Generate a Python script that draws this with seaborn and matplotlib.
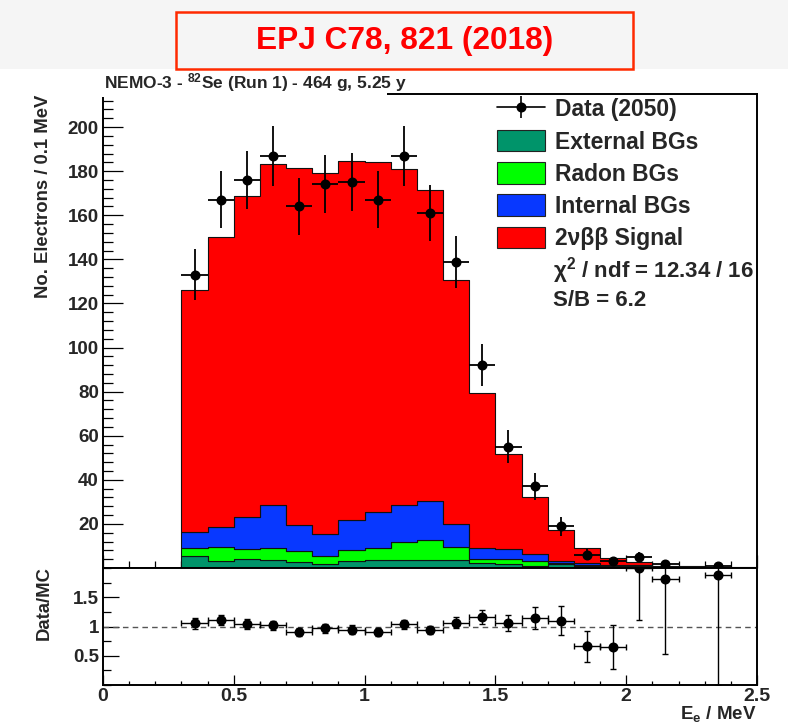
import numpy as np
import pandas as pd
import matplotlib
matplotlib.use("Agg")
import matplotlib.pyplot as plt
import seaborn as sns
from matplotlib.lines import Line2D
from matplotlib.patches import Patch, Rectangle
from matplotlib.legend_handler import HandlerTuple
from matplotlib.ticker import (MultipleLocator, NullFormatter, FixedLocator,
                               FormatStrFormatter)

# ---- 0.1 MeV energy bins (centres, MeV) that carry content ----
energy = [0.35, 0.45, 0.55, 0.65, 0.75, 0.85, 0.95, 1.05, 1.15, 1.25, 1.35,
          1.45, 1.55, 1.65, 1.75, 1.85, 1.95, 2.05, 2.15, 2.25, 2.35, 2.45]
bin_width = 0.1

# ---- observed electrons per bin ----
data_counts = [133, 167, 176, 187, 164, 174, 175, 167, 187, 161, 139,
               92, 55, 37, 19, 6, 3, 5, 2, 0, 1, 0]

# ---- fitted MC components per bin ----
external_bg = [5.3, 3.2, 4.1, 3.8, 2.5, 1.8, 3.0, 3.6, 3.6, 3.6, 3.6,
               2.1, 1.8, 1.0, 1.8, 1.0, 0.5, 0.9, 0.2, 0.1, 0.05, 0.05]
radon_bg = [3.8, 6.1, 4.5, 5.1, 5.2, 3.8, 5.3, 5.3, 8.0, 8.9, 6.0,
            2.2, 2.3, 2.3, 0.5, 0.5, 0.3, 0.1, 0.1, 0.05, 0.05, 0.05]
internal_bg = [7.2, 9.5, 14.5, 19.5, 11.8, 9.8, 13.6, 16.5, 16.8, 17.7, 10.3,
               4.6, 4.3, 2.9, 0.9, 0.8, 0.7, 0.4, 0.2, 0.1, 0.1, 0.05]
signal_2nbb = [109.7, 131.4, 145.8, 155.0, 162.1, 163.9, 162.7, 158.9, 152.4, 141.4, 110.7,
               70.4, 43.5, 26.0, 14.1, 6.8, 3.1, 1.1, 0.6, 0.45, 0.33, 0.15]

component_names = ["External BGs", "Radon BGs", "Internal BGs", "2\u03bd\u03b2\u03b2 Signal"]
component_colors = ["#00946a", "#00ff00", "#0838ff", "#ff0000"]
data_label = "Data (2050)"
fit_lines = ["$\\chi^{2}$ / ndf = 12.34 / 16", "S/B = 6.2"]

main_yticks = [20, 40, 60, 80, 100, 120, 140, 160, 180, 200]
ratio_yticks = [0.5, 1, 1.5]
xticks = [0, 0.5, 1, 1.5, 2, 2.5]

header = "NEMO-3 - $^{82}$Se (Run 1) - 464 g, 5.25 y"
banner = "EPJ C78, 821 (2018)"

# ---- style ----
sns.set_theme(style="ticks")
plt.rcParams["font.family"] = ["Liberation Sans", "DejaVu Sans"]
plt.rcParams["font.weight"] = "bold"
plt.rcParams["mathtext.fontset"] = "custom"
plt.rcParams["mathtext.rm"] = "Liberation Sans:bold"
plt.rcParams["mathtext.bf"] = "Liberation Sans:bold"
plt.rcParams["mathtext.it"] = "Liberation Sans:bold"
plt.rcParams["mathtext.default"] = "bf"

W, H = 788, 724
fig = plt.figure(figsize=(W / 100, H / 100), dpi=100)
fig.patch.set_facecolor("white")


def fx(px):
    return px / W


def fy(py):
    return 1 - py / H


left, right = 103, 757
ax = fig.add_axes([fx(left), fy(568), fx(right) - fx(left), fy(94) - fy(568)])
axr = fig.add_axes([fx(left), fy(685), fx(right) - fx(left), fy(568) - fy(685)])

# ---- stacked MC histogram ----
centres = np.array(energy)
edges = np.append(centres - bin_width / 2, centres[-1] + bin_width / 2)
components = [external_bg, radon_bg, internal_bg, signal_2nbb]
df = pd.DataFrame({
    "energy": np.tile(centres, len(components)),
    "count": np.concatenate([np.asarray(c, float) for c in components]),
    "component": np.repeat(component_names, len(centres)),
})
palette = dict(zip(component_names, component_colors))
sns.histplot(data=df, x="energy", weights="count", hue="component",
             hue_order=component_names[::-1], multiple="stack",
             bins=edges.tolist(), element="step", palette=palette, alpha=1,
             edgecolor="#111111", linewidth=0.8, legend=False, ax=ax)

# ---- data points ----
counts = np.asarray(data_counts, float)
has = counts > 0
ax.errorbar(centres[has], counts[has], yerr=np.sqrt(counts[has]),
            xerr=bin_width / 2, fmt="o", color="black", ms=6.2,
            elinewidth=1.3, capsize=0, zorder=5)

# ---- ratio panel ----
mc_total = np.sum([np.asarray(c, float) for c in components], axis=0)
ratio = counts[has] / mc_total[has]
ratio_err = np.sqrt(counts[has]) / mc_total[has]
axr.axhline(1, ls=(0, (4, 3)), color="#555555", lw=1.0, zorder=1)
axr.errorbar(centres[has], ratio, yerr=ratio_err, xerr=bin_width / 2, fmt="o",
             color="black", ms=6.2, elinewidth=1.0, capsize=2.2, capthick=1.0,
             zorder=5)

# ---- axes cosmetics ----
for a in (ax, axr):
    a.set_xlim(0, 2.5)
    a.set_xlabel("")
    a.set_ylabel("")
    a.set_facecolor("white")
    a.grid(False)
    for s in a.spines.values():
        s.set_linewidth(1.4)
        s.set_color("black")
    a.xaxis.set_major_locator(FixedLocator(xticks))
    a.xaxis.set_minor_locator(MultipleLocator(0.1))
    a.tick_params(which="both", direction="in", color="black", width=0.9,
                  top=False, right=False)

ax.set_ylim(0, 215)
ax.yaxis.set_major_locator(FixedLocator(main_yticks))
ax.yaxis.set_minor_locator(MultipleLocator(4))
ax.xaxis.set_major_formatter(NullFormatter())
ax.tick_params(axis="y", which="major", length=14.4, labelsize=13.5, pad=3)
ax.tick_params(axis="y", which="minor", length=7.2)
ax.tick_params(axis="x", which="major", length=9.4)
ax.tick_params(axis="x", which="minor", length=5.0)

axr.set_ylim(0, 2)
axr.yaxis.set_major_locator(FixedLocator(ratio_yticks))
axr.yaxis.set_major_formatter(FormatStrFormatter("%g"))
axr.yaxis.set_minor_locator(MultipleLocator(0.25))
axr.xaxis.set_major_formatter(FormatStrFormatter("%g"))
axr.tick_params(axis="y", which="major", length=11.5, labelsize=13.5, pad=3)
axr.tick_params(axis="y", which="minor", length=5.8)
axr.tick_params(axis="x", which="major", length=7.2, labelsize=14, pad=2)
axr.tick_params(axis="x", which="minor", length=2.6)
for lab in ax.get_yticklabels() + axr.get_yticklabels() + axr.get_xticklabels():
    lab.set_fontweight("bold")

# ---- legend ----
handles = [(Line2D([], [], color="black", lw=1.2, marker="o", ms=6.2),
            Line2D([], [], color="black", marker="|", ms=16, mew=1.2, ls="none"))]
handles += [Patch(facecolor=c, edgecolor="#222222", lw=0.8) for c in component_colors]
ax.legend(handles, [data_label] + component_names,
          handler_map={tuple: HandlerTuple(ndivide=1)},
          loc="upper left", bbox_to_anchor=(fx(497), fy(98)),
          bbox_transform=fig.transFigure, frameon=False,
          prop={"size": 16.5, "weight": "bold"}, handlelength=2.1,
          handleheight=1.05, handletextpad=0.45, labelspacing=0.38,
          borderpad=0, borderaxespad=0)
for i, t in enumerate(fit_lines):
    fig.text(fx(553), fy(271 + 30 * i), t, fontsize=16, fontweight="bold",
             ha="left", va="center")

# ---- titles and axis titles ----
fig.patches.append(Rectangle((0, fy(69)), 1, 69 / H, transform=fig.transFigure,
                             facecolor="#f5f5f5", edgecolor="none", zorder=0))
fig.patches.append(Rectangle((fx(176), fy(69)), fx(633) - fx(176), (69 - 12) / H,
                             transform=fig.transFigure, facecolor="#f5f5f5",
                             edgecolor="#ff2a00", lw=1.8, zorder=1))
fig.text(fx(405), fy(41), banner, color="#ff0000", fontsize=22.8,
         fontweight="bold", ha="center", va="center", zorder=2)

fig.patches.append(Rectangle((fx(100), fy(97)), fx(387) - fx(100), (97 - 72) / H,
                             transform=fig.transFigure, facecolor="white",
                             edgecolor="none", zorder=5))
fig.text(fx(104), fy(88), header, fontsize=12.5, fontweight="bold",
         ha="left", va="baseline", zorder=6)

fig.text(fx(44), fy(95), "No. Electrons / 0.1 MeV", rotation=90, fontsize=13.3,
         fontweight="bold", ha="center", va="top")
fig.text(fx(44), fy(566), "Data/MC", rotation=90, fontsize=13.3,
         fontweight="bold", ha="center", va="top")
fig.text(fx(757), fy(719), "E$_{e}$ / MeV", fontsize=13.5, fontweight="bold",
         ha="right", va="baseline")

fig.savefig("out.png", dpi=100, facecolor=fig.get_facecolor())
